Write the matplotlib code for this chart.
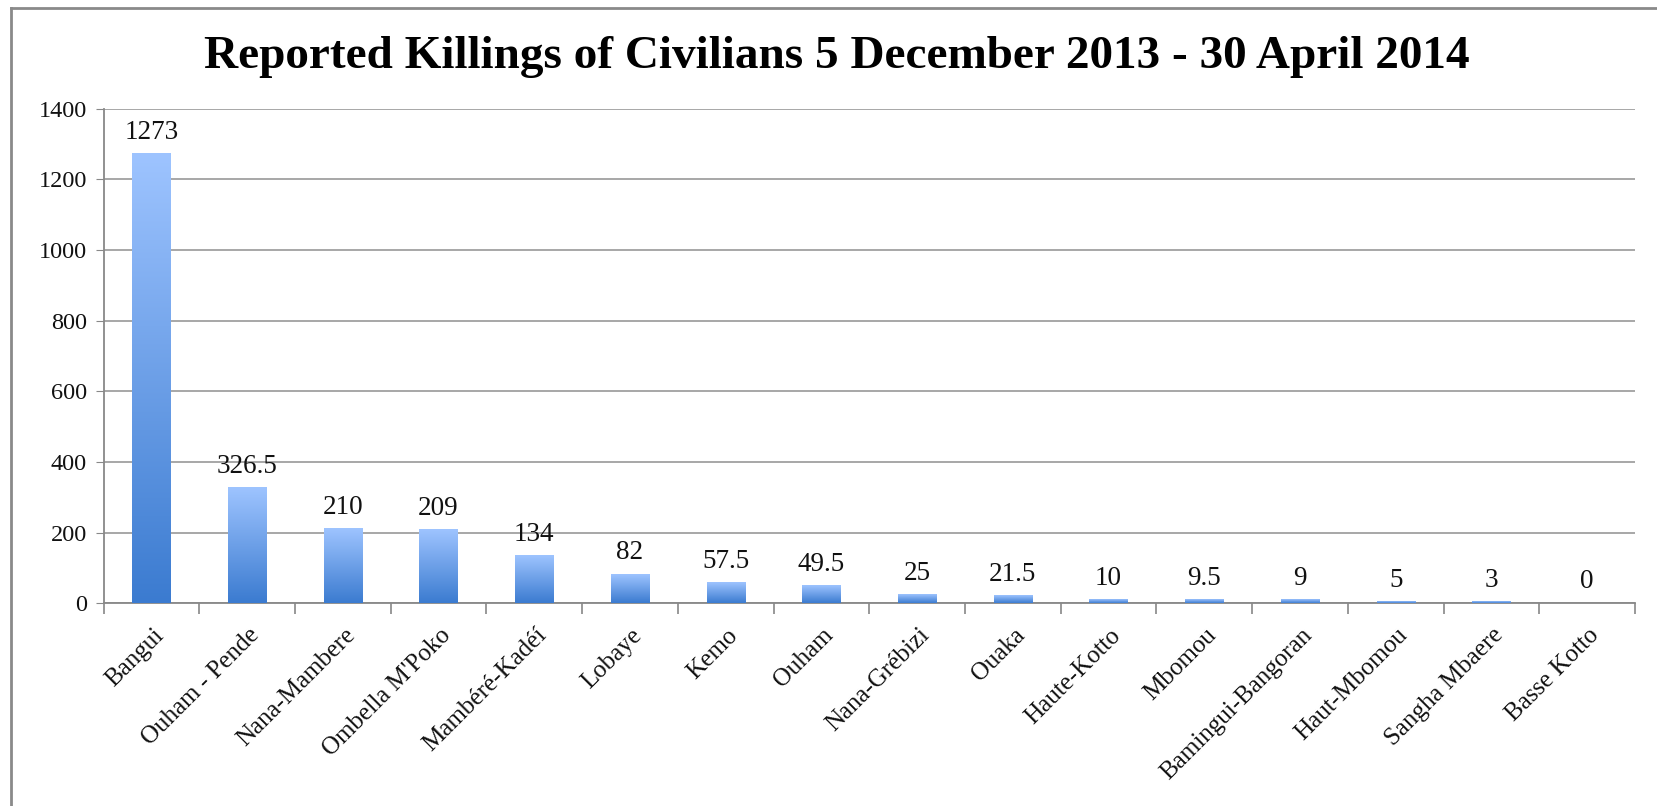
import matplotlib
matplotlib.use("Agg")
import matplotlib.pyplot as plt
import numpy as np
from matplotlib.colors import LinearSegmentedColormap
from matplotlib.lines import Line2D
from matplotlib.transforms import ScaledTranslation

regions = ["Bangui", "Ouham - Pende", "Nana-Mambere", "Ombella M'Poko", "Mambéré-Kadéí",
           "Lobaye", "Kemo", "Ouham", "Nana-Grébizi", "Ouaka", "Haute-Kotto", "Mbomou",
           "Bamingui-Bangoran", "Haut-Mbomou", "Sangha Mbaere", "Basse Kotto"]
killings = [1273, 326.5, 210, 209, 134, 82, 57.5, 49.5, 25, 21.5, 10, 9.5, 9, 5, 3, 0]
value_labels = ["1273", "326.5", "210", "209", "134", "82", "57.5", "49.5", "25", "21.5",
                "10", "9.5", "9", "5", "3", "0"]
yticks = [0, 200, 400, 600, 800, 1000, 1200, 1400]
title = "Reported Killings of Civilians 5 December 2013 - 30 April 2014"

plt.rcParams['font.family'] = ['Liberation Serif', 'DejaVu Serif']

fig = plt.figure(figsize=(16.57, 8.06), dpi=100)
ax = fig.add_axes([0.0625, 0.2514, 0.9242, 0.6136])

cmap = LinearSegmentedColormap.from_list("g", ["#3B7BD0", "#9EC4FF"])
grad = np.linspace(0, 1, 256).reshape(-1, 1)
x = np.arange(len(regions))
width = 0.40
bars = ax.bar(x, killings, width=width, color="none", edgecolor="none", zorder=3)
for b in bars:
    h = b.get_height()
    if h <= 0:
        continue
    x0 = b.get_x()
    ax.imshow(grad, cmap=cmap, origin="lower", aspect="auto",
              extent=(x0, x0 + b.get_width(), 0, h), zorder=3, interpolation="bicubic")

for xi, v, lab in zip(x, killings, value_labels):
    ax.annotate(lab, (xi, v), xytext=(0, 15.5), textcoords="offset points",
                ha="center", va="center", fontsize=19.5, color="#111111")

ax.set_xlim(-0.5, len(regions) - 0.5)
ax.set_ylim(0, 1400)
ax.set_yticks(yticks)
ax.tick_params(axis="y", labelsize=17.5, length=6, color="#888888", pad=6, labelcolor="#111111")
ax.yaxis.grid(True, color="#A0A0A0", linewidth=1.3, zorder=0)
ax.set_axisbelow(True)

ax.set_xticks(x)
ax.set_xticklabels(regions, rotation=45, ha="right", va="top", rotation_mode="anchor",
                   fontsize=18, color="#111111")
ax.tick_params(axis="x", which="major", length=0, pad=15)
shift = ScaledTranslation(1 / 100, 0, fig.dpi_scale_trans)
for t in ax.get_xticklabels():
    t.set_transform(t.get_transform() + shift)
ax.set_xticks(np.arange(-0.5, len(regions)), minor=True)
ax.tick_params(axis="x", which="minor", length=8, color="#888888", width=1.2)

for s in ["top", "right"]:
    ax.spines[s].set_visible(False)
for s in ["left", "bottom"]:
    ax.spines[s].set_color("#888888")
    ax.spines[s].set_linewidth(1.3)

fig.text(0.505, 0.929, title, ha="center", va="center", fontsize=34, fontweight="bold",
         color="black")

fig.add_artist(Line2D([10.5 / 1657, 10.5 / 1657], [0, 1 - 8 / 806], transform=fig.transFigure,
                      color="#8A8A8A", linewidth=2))
fig.add_artist(Line2D([10.5 / 1657, 1], [1 - 8 / 806, 1 - 8 / 806], transform=fig.transFigure,
                      color="#8A8A8A", linewidth=2))

fig.savefig("out.png", dpi=100)
